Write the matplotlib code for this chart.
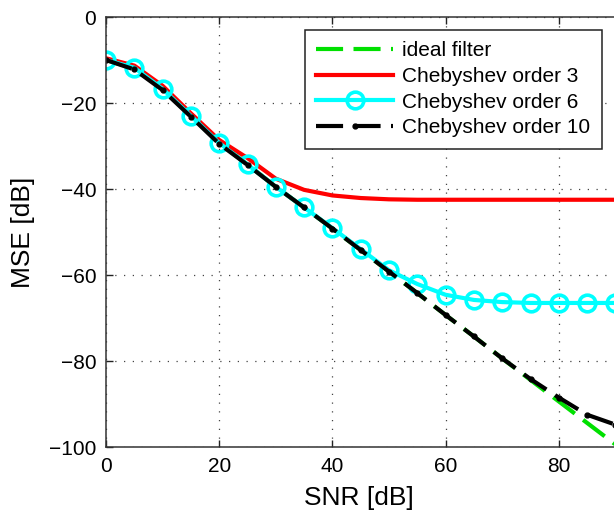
import matplotlib
matplotlib.use("Agg")
import matplotlib.pyplot as plt

plt.rcParams["font.family"] = ["Liberation Sans", "DejaVu Sans"]

# SNR grid (dB) and MSE curves (dB)
snr = [0, 5, 10, 15, 20, 25, 30, 35, 40, 45, 50,
       55, 60, 65, 70, 75, 80, 85, 90, 95, 100]
mse_ideal = [-10, -12, -16.7, -23, -29.3, -34.3, -39.5, -44.3, -49.2, -54.2, -59.2,
             -64.2, -69.3, -74.3, -79.4, -84.4, -89.4, -94.4, -99.4, -104.4, -109.4]
mse_cheb3 = [-9.6, -11.3, -16, -22.4, -28.6, -32.8, -37.6, -40.2, -41.5, -42.1, -42.4,
             -42.5, -42.5, -42.5, -42.5, -42.5, -42.5, -42.5, -42.5, -42.5, -42.5]
mse_cheb6 = [-10, -11.8, -16.7, -23, -29.3, -34.3, -39.5, -44.3, -49.1, -54, -58.9,
             -62.1, -64.6, -65.8, -66.3, -66.5, -66.5, -66.5, -66.5, -66.5, -66.5]
mse_cheb10 = [-10, -12.2, -17, -23.2, -29.5, -34.4, -39.5, -44.3, -49.2, -54.2, -59.2,
              -64.2, -69.3, -74.3, -79.4, -84.2, -88.5, -92.5, -94.8, -96.2, -97]

fig = plt.figure(figsize=(6.14, 5.2), dpi=100)
# axes run past the right edge of the canvas
ax = fig.add_axes([106 / 614, 73 / 520, 566 / 614, 430 / 520])

ax.plot(snr, mse_ideal, color="#00e000", lw=3, dashes=(6.5, 2.5),
        label="ideal filter")
ax.plot(snr, mse_cheb3, color="#ff0000", lw=3, label="Chebyshev order 3")
ax.plot(snr, mse_cheb6, color="#00ffff", lw=3, marker="o", ms=12,
        mfc="none", mew=2.6, label="Chebyshev order 6")
ax.plot(snr, mse_cheb10, color="black", lw=3, dashes=(6.5, 2.5), marker=".",
        ms=7, label="Chebyshev order 10")

ax.set_xlim(0, 100)
ax.set_ylim(-100, 0)
ax.set_xticks([0, 20, 40, 60, 80])
ax.set_yticks([-100, -80, -60, -40, -20, 0])
ax.grid(True, color="#444444", ls=(0, (1, 6)), lw=0.9)

ax.tick_params(direction="in", length=5, width=1, labelsize=15, pad=7,
               top=True, right=True, colors="#222222", labelcolor="black")
for sp in ax.spines.values():
    sp.set_linewidth(1.1)
    sp.set_color("#333333")

ax.set_xlabel("SNR [dB]", fontsize=19, labelpad=8)
ax.xaxis.set_label_coords(253 / 566, -0.09)
ax.set_ylabel("MSE [dB]", fontsize=19, labelpad=10)

leg = ax.legend(loc="upper right", bbox_to_anchor=(602 / 614, 490 / 520),
                bbox_transform=fig.transFigure, borderaxespad=0, fontsize=15,
                handlelength=3.7, handletextpad=0.45, labelspacing=0.32,
                borderpad=0.55, fancybox=False, framealpha=1,
                edgecolor="#222222")
leg.get_frame().set_linewidth(1.1)

fig.savefig("out.png", dpi=100)
